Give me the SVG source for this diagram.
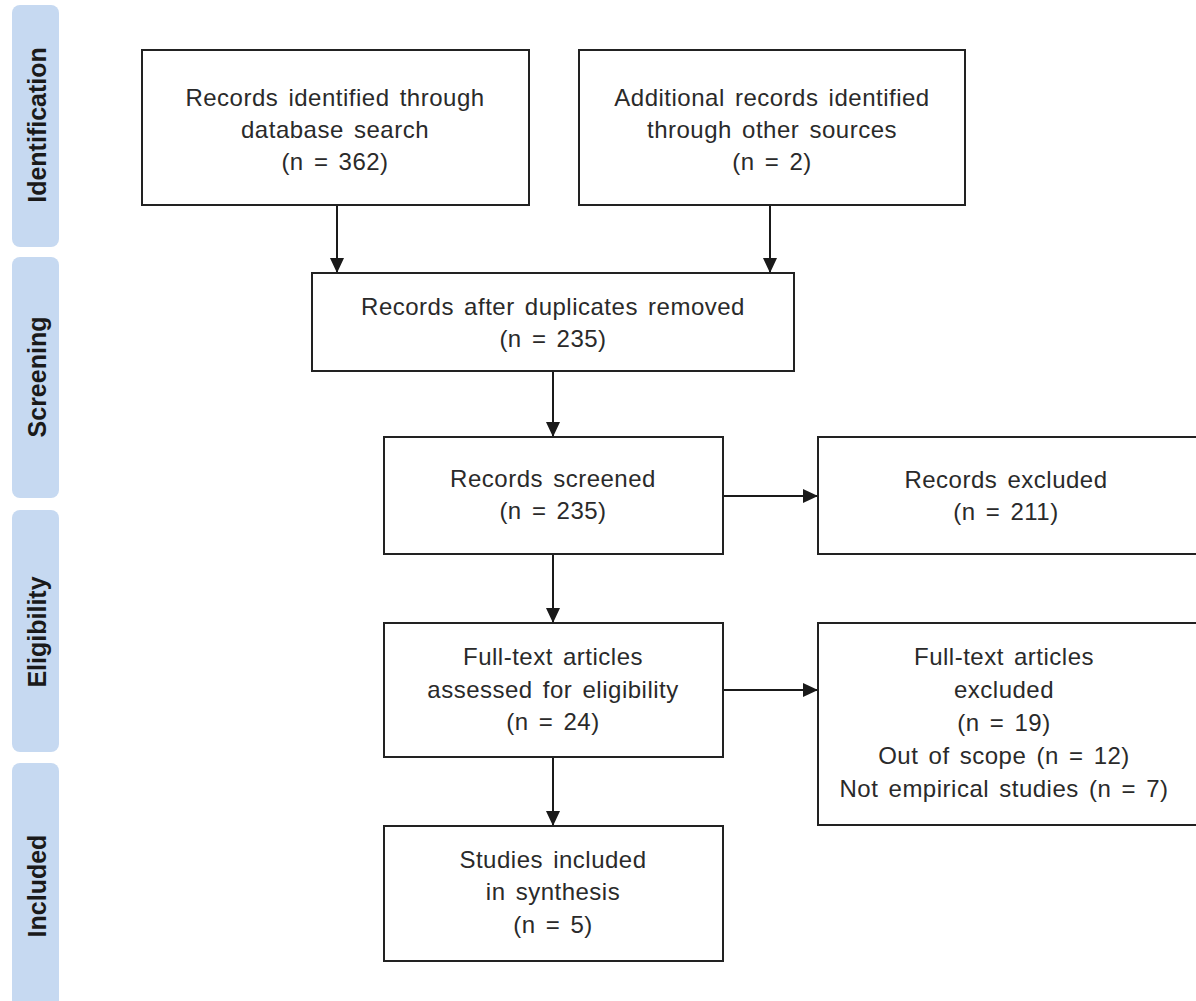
<svg xmlns="http://www.w3.org/2000/svg" width="1196" height="1001" viewBox="0 0 1196 1001">
  <style>
    .phase { fill: #c6d9f1; }
    .phase-label { font-family: "Liberation Sans", Arial, sans-serif; font-size: 25px; font-weight: bold; fill: #1a1a1a; text-anchor: middle; }
    .box { fill: #ffffff; stroke: #222222; stroke-width: 2; }
    .label { font-family: "Liberation Sans", Arial, sans-serif; font-size: 24px; fill: #2a2a2a; text-anchor: middle; letter-spacing: 0.5px; word-spacing: 3px; }
    .edge { fill: none; stroke: #1a1a1a; stroke-width: 2; }
  </style>
  <defs>
    <marker id="arrow" markerUnits="userSpaceOnUse" markerWidth="16" markerHeight="14" refX="15" refY="7" orient="auto">
      <path d="M0,0 L15,7 L0,14 Z" fill="#1a1a1a"/>
    </marker>
  </defs>

  <rect width="1196" height="1001" fill="#ffffff"/>

  <!-- phase side bars -->
  <g id="phase-identification">
    <rect class="phase" x="12" y="5" width="47" height="242" rx="8"/>
    <text class="phase-label" transform="translate(46,125) rotate(-90)">Identification</text>
  </g>
  <g id="phase-screening">
    <rect class="phase" x="12" y="257" width="47" height="241" rx="8"/>
    <text class="phase-label" transform="translate(46,377) rotate(-90)">Screening</text>
  </g>
  <g id="phase-eligibility">
    <rect class="phase" x="12" y="510" width="47" height="242" rx="8"/>
    <text class="phase-label" transform="translate(46,632) rotate(-90)">Eligibility</text>
  </g>
  <g id="phase-included">
    <rect class="phase" x="12" y="763" width="47" height="250" rx="8"/>
    <text class="phase-label" transform="translate(46,886) rotate(-90)">Included</text>
  </g>

  <!-- connectors -->
  <g id="connectors">
    <line class="edge" x1="337" y1="205" x2="337" y2="273" marker-end="url(#arrow)"/>
    <line class="edge" x1="770" y1="205" x2="770" y2="273" marker-end="url(#arrow)"/>
    <line class="edge" x1="553" y1="371" x2="553" y2="437" marker-end="url(#arrow)"/>
    <line class="edge" x1="723" y1="496" x2="818" y2="496" marker-end="url(#arrow)"/>
    <line class="edge" x1="553" y1="554" x2="553" y2="623" marker-end="url(#arrow)"/>
    <line class="edge" x1="723" y1="690" x2="818" y2="690" marker-end="url(#arrow)"/>
    <line class="edge" x1="553" y1="757" x2="553" y2="826" marker-end="url(#arrow)"/>
  </g>

  <!-- nodes -->
  <g id="db-search">
    <rect class="box" x="142" y="50" width="387" height="155"/>
    <text class="label" x="335" y="106">Records identified through</text>
    <text class="label" x="335" y="138">database search</text>
    <text class="label" x="335" y="170">(n = 362)</text>
  </g>
  <g id="other-sources">
    <rect class="box" x="579" y="50" width="386" height="155"/>
    <text class="label" x="772" y="106">Additional records identified</text>
    <text class="label" x="772" y="138">through other sources</text>
    <text class="label" x="772" y="170">(n = 2)</text>
  </g>
  <g id="deduplicated">
    <rect class="box" x="312" y="273" width="482" height="98"/>
    <text class="label" x="553" y="315">Records after duplicates removed</text>
    <text class="label" x="553" y="347">(n = 235)</text>
  </g>
  <g id="screened">
    <rect class="box" x="384" y="437" width="339" height="117"/>
    <text class="label" x="553" y="487">Records screened</text>
    <text class="label" x="553" y="519">(n = 235)</text>
  </g>
  <g id="records-excluded">
    <rect class="box" x="818" y="437" width="380" height="117"/>
    <text class="label" x="1006" y="488">Records excluded</text>
    <text class="label" x="1006" y="520">(n = 211)</text>
  </g>
  <g id="full-text">
    <rect class="box" x="384" y="623" width="339" height="134"/>
    <text class="label" x="553" y="665">Full-text articles</text>
    <text class="label" x="553" y="698">assessed for eligibility</text>
    <text class="label" x="553" y="730">(n = 24)</text>
  </g>
  <g id="full-text-excluded">
    <rect class="box" x="818" y="623" width="380" height="202"/>
    <text class="label" x="1004" y="665">Full-text articles</text>
    <text class="label" x="1004" y="698">excluded</text>
    <text class="label" x="1004" y="731">(n = 19)</text>
    <text class="label" x="1004" y="764">Out of scope (n = 12)</text>
    <text class="label" x="1004" y="797">Not empirical studies (n = 7)</text>
  </g>
  <g id="included-studies">
    <rect class="box" x="384" y="826" width="339" height="135"/>
    <text class="label" x="553" y="868">Studies included</text>
    <text class="label" x="553" y="900">in synthesis</text>
    <text class="label" x="553" y="933">(n = 5)</text>
  </g>
</svg>
